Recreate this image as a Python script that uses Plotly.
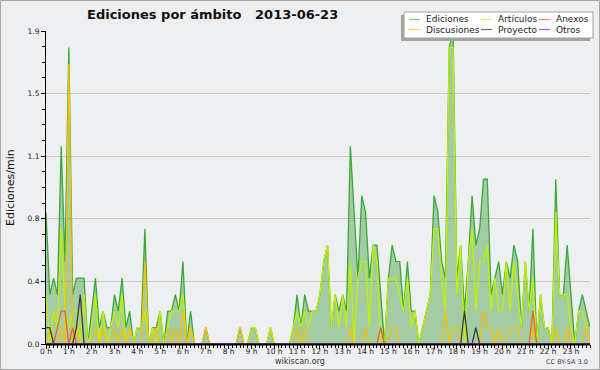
import plotly.graph_objects as go

# ---------------- data (edits per minute, 10-minute buckets, 2013-06-23) ----------------
ediciones = [
    0.8, 0.3, 0.4, 0.3, 1.2, 0.5,  1.8, 0.3, 0.4, 0.4, 0.4, 0.0,   # 0h-1h
    0.2, 0.4, 0.1, 0.2, 0.1, 0.1,  0.3, 0.2, 0.4, 0.1, 0.2, 0.0,   # 2h-3h
    0.1, 0.1, 0.7, 0.0, 0.1, 0.1,  0.2, 0.0, 0.2, 0.2, 0.3, 0.2,   # 4h-5h
    0.5, 0.0, 0.2, 0.0, 0.0, 0.0,  0.1, 0.0, 0.0, 0.0, 0.0, 0.0,   # 6h-7h
    0.0, 0.0, 0.0, 0.1, 0.0, 0.0,  0.1, 0.1, 0.0, 0.0, 0.0, 0.1,   # 8h-9h
    0.0, 0.0, 0.0, 0.0, 0.0, 0.1,  0.3, 0.1, 0.3, 0.2, 0.2, 0.2,   # 10h-11h
    0.3, 0.5, 0.6, 0.1, 0.3, 0.2,  0.3, 0.2, 1.2, 0.8, 0.4, 0.9,   # 12h-13h
    0.8, 0.4, 0.6, 0.6, 0.3, 0.0,  0.4, 0.6, 0.5, 0.5, 0.2, 0.5,   # 14h-15h
    0.2, 0.2, 0.0, 0.1, 0.2, 0.3,  0.9, 0.8, 0.5, 0.4, 1.8, 1.9,   # 16h-17h
    0.4, 0.6, 0.2, 0.5, 0.9, 0.6,  0.7, 1.0, 1.0, 0.3, 0.4, 0.5,   # 18h-19h
    0.3, 0.5, 0.4, 0.6, 0.5, 0.1,  0.5, 0.2, 0.7, 0.0, 0.3, 0.1,   # 20h-21h
    0.1, 0.0, 1.0, 0.3, 0.3, 0.6,  0.3, 0.0, 0.2, 0.3, 0.2, 0.1,   # 22h-23h
]
articulos = [
    0.3, 0.0, 0.2, 0.1, 0.7, 0.2,  0.1, 0.2, 0.2, 0.0, 0.3, 0.0,
    0.1, 0.3, 0.0, 0.2, 0.0, 0.1,  0.2, 0.1, 0.3, 0.0, 0.1, 0.0,
    0.1, 0.1, 0.2, 0.0, 0.1, 0.0,  0.2, 0.0, 0.1, 0.2, 0.2, 0.2,
    0.3, 0.0, 0.1, 0.0, 0.0, 0.0,  0.0, 0.0, 0.0, 0.0, 0.0, 0.0,
    0.0, 0.0, 0.0, 0.0, 0.0, 0.0,  0.1, 0.1, 0.0, 0.0, 0.0, 0.1,
    0.0, 0.0, 0.0, 0.0, 0.0, 0.1,  0.2, 0.1, 0.2, 0.1, 0.2, 0.2,
    0.3, 0.5, 0.6, 0.1, 0.3, 0.1,  0.3, 0.1, 0.5, 0.0, 0.4, 0.5,
    0.5, 0.1, 0.6, 0.5, 0.0, 0.0,  0.4, 0.4, 0.4, 0.3, 0.2, 0.4,
    0.1, 0.2, 0.0, 0.1, 0.2, 0.3,  0.7, 0.7, 0.4, 0.2, 1.8, 1.8,
    0.3, 0.6, 0.0, 0.5, 0.7, 0.2,  0.5, 0.5, 0.6, 0.2, 0.4, 0.2,
    0.2, 0.5, 0.2, 0.5, 0.3, 0.1,  0.5, 0.2, 0.4, 0.0, 0.3, 0.1,
    0.1, 0.0, 0.8, 0.3, 0.3, 0.3,  0.1, 0.0, 0.2, 0.2, 0.1, 0.1,
]
discusiones = [
    0.0, 0.1, 0.0, 0.0, 0.1, 0.0,  1.7, 0.0, 0.1, 0.0, 0.0, 0.0,
    0.0, 0.1, 0.0, 0.1, 0.0, 0.0,  0.1, 0.0, 0.1, 0.0, 0.1, 0.0,
    0.0, 0.0, 0.5, 0.0, 0.0, 0.1,  0.0, 0.0, 0.1, 0.0, 0.1, 0.0,
    0.2, 0.0, 0.1, 0.0, 0.0, 0.0,  0.1, 0.0, 0.0, 0.0, 0.0, 0.0,
    0.0, 0.0, 0.0, 0.1, 0.0, 0.0,  0.0, 0.0, 0.0, 0.0, 0.0, 0.0,
    0.0, 0.0, 0.0, 0.0, 0.0, 0.0,  0.1, 0.0, 0.1, 0.0, 0.0, 0.0,
    0.0, 0.0, 0.0, 0.0, 0.0, 0.0,  0.0, 0.0, 0.1, 0.0, 0.0, 0.0,
    0.1, 0.0, 0.0, 0.0, 0.0, 0.0,  0.0, 0.1, 0.1, 0.0, 0.0, 0.0,
    0.0, 0.0, 0.0, 0.0, 0.0, 0.0,  0.0, 0.0, 0.0, 0.2, 0.0, 0.1,
    0.1, 0.0, 0.0, 0.0, 0.0, 0.0,  0.0, 0.2, 0.1, 0.1, 0.0, 0.1,
    0.0, 0.0, 0.1, 0.1, 0.1, 0.0,  0.0, 0.0, 0.1, 0.0, 0.0, 0.0,
    0.0, 0.0, 0.1, 0.0, 0.0, 0.1,  0.0, 0.0, 0.0, 0.0, 0.1, 0.0,
]
anexos = [
    0.0, 0.0, 0.0, 0.1, 0.2, 0.2,  0.0, 0.1, 0.0, 0.0, 0.0, 0.0,
    0.0, 0.0, 0.0, 0.0, 0.0, 0.0,  0.0, 0.0, 0.0, 0.0, 0.0, 0.0,
    0.0, 0.0, 0.0, 0.0, 0.0, 0.0,  0.0, 0.0, 0.0, 0.0, 0.0, 0.0,
    0.0, 0.0, 0.0, 0.0, 0.0, 0.0,  0.0, 0.0, 0.0, 0.0, 0.0, 0.0,
    0.0, 0.0, 0.0, 0.0, 0.0, 0.0,  0.0, 0.0, 0.0, 0.0, 0.0, 0.0,
    0.0, 0.0, 0.0, 0.0, 0.0, 0.0,  0.0, 0.0, 0.0, 0.0, 0.0, 0.0,
    0.0, 0.0, 0.0, 0.0, 0.0, 0.0,  0.0, 0.0, 0.0, 0.0, 0.0, 0.0,
    0.0, 0.0, 0.0, 0.0, 0.1, 0.0,  0.0, 0.0, 0.0, 0.0, 0.0, 0.0,
    0.0, 0.0, 0.0, 0.0, 0.0, 0.0,  0.0, 0.0, 0.0, 0.0, 0.0, 0.0,
    0.0, 0.0, 0.0, 0.0, 0.0, 0.0,  0.0, 0.0, 0.0, 0.0, 0.0, 0.0,
    0.0, 0.0, 0.0, 0.0, 0.0, 0.0,  0.0, 0.0, 0.2, 0.0, 0.0, 0.0,
    0.0, 0.0, 0.0, 0.0, 0.0, 0.0,  0.0, 0.0, 0.0, 0.0, 0.0, 0.0,
]
proyecto = [
    0.1, 0.1, 0.0, 0.0, 0.0, 0.0,  0.0, 0.0, 0.1, 0.3, 0.0, 0.0,
    0.0, 0.0, 0.0, 0.0, 0.0, 0.0,  0.0, 0.0, 0.0, 0.0, 0.0, 0.0,
    0.0, 0.0, 0.0, 0.0, 0.0, 0.0,  0.0, 0.0, 0.0, 0.0, 0.0, 0.0,
    0.0, 0.0, 0.0, 0.0, 0.0, 0.0,  0.0, 0.0, 0.0, 0.0, 0.0, 0.0,
    0.0, 0.0, 0.0, 0.0, 0.0, 0.0,  0.0, 0.0, 0.0, 0.0, 0.0, 0.0,
    0.0, 0.0, 0.0, 0.0, 0.0, 0.0,  0.0, 0.0, 0.0, 0.0, 0.0, 0.0,
    0.0, 0.0, 0.0, 0.0, 0.0, 0.0,  0.0, 0.0, 0.0, 0.0, 0.0, 0.0,
    0.0, 0.0, 0.0, 0.0, 0.0, 0.0,  0.0, 0.0, 0.0, 0.0, 0.0, 0.0,
    0.0, 0.0, 0.0, 0.0, 0.0, 0.0,  0.0, 0.0, 0.0, 0.0, 0.0, 0.0,
    0.0, 0.0, 0.2, 0.0, 0.0, 0.1,  0.0, 0.0, 0.0, 0.0, 0.0, 0.0,
    0.0, 0.0, 0.0, 0.0, 0.0, 0.0,  0.0, 0.0, 0.0, 0.0, 0.0, 0.0,
    0.0, 0.0, 0.0, 0.0, 0.0, 0.0,  0.0, 0.0, 0.0, 0.0, 0.0, 0.0,
]
otros = [0.0] * 144

series_names = ["Ediciones", "Artículos", "Anexos", "Discusiones", "Proyecto", "Otros"]
hour_labels = ["0 h", "1 h", "2 h", "3 h", "4 h", "5 h", "6 h", "7 h", "8 h", "9 h",
               "10 h", "11 h", "12 h", "13 h", "14 h", "15 h", "16 h", "17 h",
               "18 h", "19 h", "20 h", "21 h", "22 h", "23 h"]
y_tick_values = [0.0, 0.38, 0.76, 1.14, 1.52, 1.9]
y_tick_labels = ["0.0", "0.4", "0.8", "1.1", "1.5", "1.9"]
title_text = "Ediciones por ámbito\u00a0\u00a0\u00a02013-06-23"
y_title = "Ediciones/min"

# ---------------- styling ----------------
FONT = "DejaVu Sans, Verdana, sans-serif"
BG = "#eeeff1"
colors = {
    "Ediciones": "#3aa93a",
    "Artículos": "#c2f000",
    "Anexos": "#f0621e",
    "Discusiones": "#f5c000",
    "Proyecto": "#3c3c3c",
    "Otros": "#a040e8",
}
legend_colors = {
    "Ediciones": "#7fcf7f",
    "Artículos": "#d6f27a",
    "Anexos": "#f28a5c",
    "Discusiones": "#f8d25a",
    "Proyecto": "#6a6a6a",
    "Otros": "#a65cf0",
}

W, H = 600, 370
ML, MR, MT, MB = 46, 10, 31, 26
PW, PH = W - ML - MR, H - MT - MB


def px(x):
    return (x - ML) / PW


def py(y):
    return (H - MB - y) / PH


minutes = [10 * i for i in range(len(ediciones))]

fig = go.Figure()
fig.add_trace(go.Scatter(x=minutes, y=ediciones, mode="lines", name="Ediciones",
                         line=dict(color=colors["Ediciones"], width=1.3),
                         fill="tozeroy", fillcolor="rgba(70,160,70,0.45)",
                         showlegend=False))
for name, vals in [("Artículos", articulos), ("Discusiones", discusiones),
                   ("Anexos", anexos), ("Proyecto", proyecto), ("Otros", otros)]:
    fig.add_trace(go.Scatter(x=minutes, y=vals, mode="lines", name=name,
                             line=dict(color=colors[name], width=1.3),
                             showlegend=False))

shapes = []
annotations = []

# heavy baseline drawn over the traces (covers zero-valued series)
shapes.append(dict(type="line", xref="paper", yref="paper", x0=0, x1=1, y0=py(344.5), y1=py(344.5),
                   line=dict(color="black", width=2), layer="above"))

# outer border
shapes.append(dict(type="rect", xref="paper", yref="paper",
                   x0=px(0.5), x1=px(W - 0.5), y0=py(0.5), y1=py(H - 0.5),
                   line=dict(color="#a8a8a8", width=1), fillcolor="rgba(0,0,0,0)",
                   layer="above"))

# legend box (shadow + white box)
shapes.append(dict(type="rect", xref="paper", yref="paper",
                   x0=px(401), x1=px(590), y0=py(41), y1=py(15),
                   line=dict(width=0), fillcolor="#a4a4a4", layer="above"))
shapes.append(dict(type="rect", xref="paper", yref="paper",
                   x0=px(404), x1=px(593), y0=py(38), y1=py(12),
                   line=dict(color="#a0a0a0", width=1), fillcolor="white", layer="above"))

col_x = [(409, 420, 424), (481, 492, 496), (539, 550, 554)]
row_y = [19.5, 29.5]
for k, name in enumerate(series_names):
    r, c = divmod(k, 3)
    lx0, lx1, tx = col_x[c]
    yy = row_y[r]
    shapes.append(dict(type="line", xref="paper", yref="paper",
                       x0=px(lx0), x1=px(lx1), y0=py(yy), y1=py(yy),
                       line=dict(color=legend_colors[name], width=1.2), layer="above"))
    annotations.append(dict(text=name, xref="paper", yref="paper", x=px(tx), y=py(yy),
                            xanchor="left", yanchor="middle", showarrow=False,
                            font=dict(family=FONT, size=9, color="#222222")))

# title
annotations.append(dict(text="<b>" + title_text + "</b>", xref="paper", yref="paper",
                        x=px(85), y=py(14), xanchor="left", yanchor="middle",
                        showarrow=False, font=dict(family=FONT, size=13, color="#111111")))
# y title
annotations.append(dict(text=y_title, xref="paper", yref="paper", x=px(10), y=py(188),
                        xanchor="center", yanchor="middle", textangle=-90, showarrow=False,
                        font=dict(family=FONT, size=11, color="#111111")))
# footer texts
annotations.append(dict(text="wikiscan.org", xref="paper", yref="paper", x=px(300), y=py(361),
                        xanchor="center", yanchor="middle", showarrow=False,
                        font=dict(family=FONT, size=8, color="#333333")))
annotations.append(dict(text="CC BY-SA 3.0", xref="paper", yref="paper", x=px(590), y=py(362),
                        xanchor="right", yanchor="middle", showarrow=False,
                        font=dict(family=FONT, size=6.5, color="#444444")))

fig.update_layout(
    width=W, height=H,
    margin=dict(l=ML, r=MR, t=MT, b=MB, pad=0),
    paper_bgcolor=BG, plot_bgcolor=BG,
    showlegend=False,
    shapes=shapes, annotations=annotations,
    font=dict(family=FONT, size=8, color="#222222"),
)
fig.update_xaxes(
    range=[0, 1430], tickvals=[60 * h for h in range(24)], ticktext=hour_labels,
    showgrid=False, zeroline=False, showline=True, linecolor="black", linewidth=1,
    ticks="outside", ticklen=4, tickcolor="black", tickwidth=1,
    ticklabelstandoff=-4,
    tickfont=dict(family=FONT, size=7.5, color="#222222"),
    minor=dict(dtick=10, tick0=0, ticks="outside", ticklen=3, tickcolor="black", showgrid=False),
)
fig.update_yaxes(
    range=[0, 1.9], tickvals=y_tick_values, ticktext=y_tick_labels,
    showgrid=True, gridcolor="#c9c9c9", gridwidth=1, zeroline=False,
    showline=True, linecolor="black", linewidth=1,
    ticks="outside", ticklen=4, tickcolor="black", tickwidth=1,
    tickfont=dict(family=FONT, size=7.5, color="#222222"),
    minor=dict(dtick=0.095, tick0=0, ticks="outside", ticklen=3, tickcolor="black", showgrid=False),
)

fig.write_html("out.html", config={"displayModeBar": False},
               post_script="document.body.style.margin='0px';")
